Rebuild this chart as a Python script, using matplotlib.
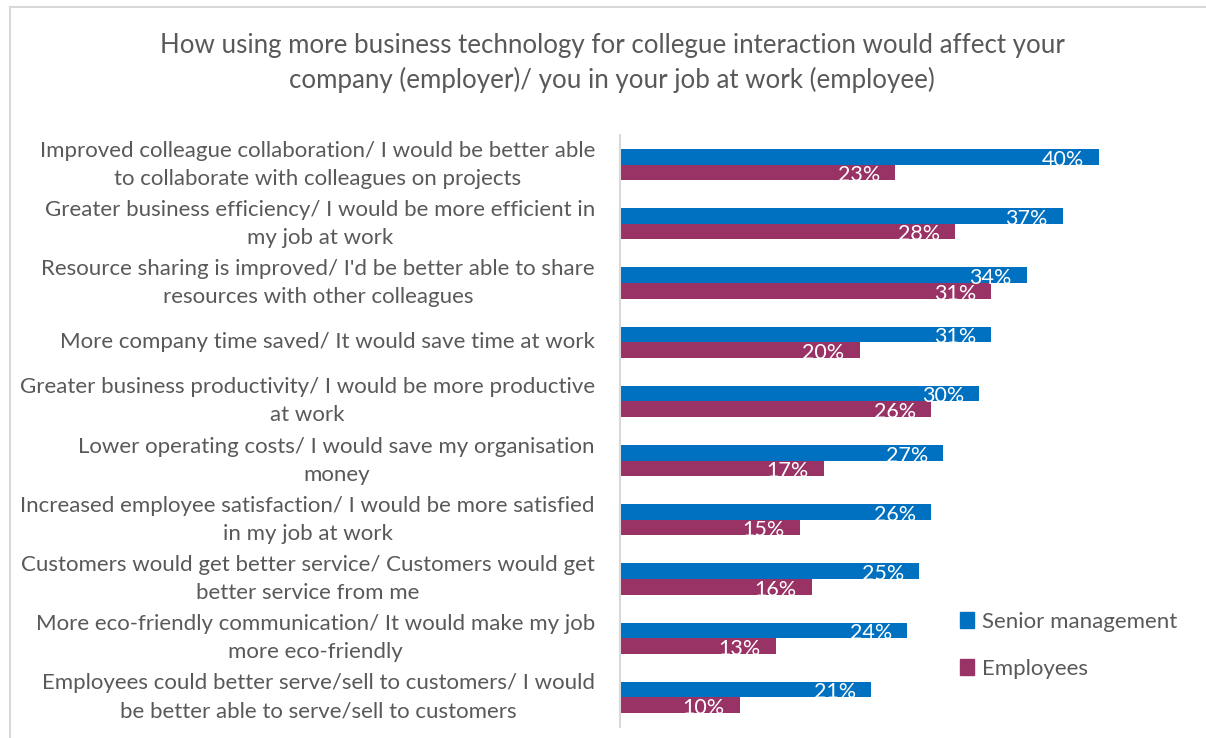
import matplotlib
matplotlib.use("Agg")
import matplotlib.pyplot as plt
from matplotlib.lines import Line2D
from matplotlib.patches import Patch

plt.rcParams['font.family'] = ['Lato', 'DejaVu Sans']

categories = [
    "Improved colleague collaboration/ I would be better able\nto collaborate with colleagues on projects",
    "Greater business efficiency/ I would be more efficient in\nmy job at work",
    "Resource sharing is improved/ I'd be better able to share\nresources with other colleagues",
    "More company time saved/ It would save time at work",
    "Greater business productivity/ I would be more productive\nat work",
    "Lower operating costs/ I would save my organisation\nmoney",
    "Increased employee satisfaction/ I would be more satisfied\nin my job at work",
    "Customers would get better service/ Customers would get\nbetter service from me",
    "More eco-friendly communication/ It would make my job\nmore eco-friendly",
    "Employees could better serve/sell to customers/ I would\nbe better able to serve/sell to customers",
]
senior = [40, 37, 34, 31, 30, 27, 26, 25, 24, 21]
employees = [23, 28, 31, 20, 26, 17, 15, 16, 13, 10]
series_names = ["Senior management", "Employees"]

blue = "#0070C0"
maroon = "#993366"
grey_text = "#595959"

W, H = 1206, 738
fig = plt.figure(figsize=(W / 100, H / 100), dpi=100)
ax = fig.add_axes([620 / W, (H - 727) / H, (1099 - 620) / W, (727 - 135) / H])

bh = 0.265
y = list(range(len(categories)))
ax.barh([i - bh / 2 for i in y], senior, height=bh, color=blue)
ax.barh([i + bh / 2 for i in y], employees, height=bh, color=maroon)

for i in y:
    ax.annotate(f"{senior[i]}%", (senior[i], i - bh / 2), xytext=(-11, -2),
                textcoords="offset points", ha="right", va="center",
                color="white", fontsize=15.5)
    ax.annotate(f"{employees[i]}%", (employees[i], i + bh / 2), xytext=(-11, -2),
                textcoords="offset points", ha="right", va="center",
                color="white", fontsize=15.5)

ax.set_xlim(0, 40)
ax.set_ylim(len(categories) - 0.5, -0.5)
ax.set_yticks(y)
ax.set_yticklabels(categories, fontsize=16, color=grey_text,
                   multialignment="center", linespacing=1.5)
for t in ax.get_yticklabels():
    t.set_verticalalignment("center")
ax.tick_params(axis="y", length=0, pad=18)
ax.set_xticks([])
for s in ["top", "right", "bottom"]:
    ax.spines[s].set_visible(False)
ax.spines["left"].set_color("#D9D9D9")
ax.spines["left"].set_linewidth(1.5)

fig.text(612 / W, 1 - 63 / H,
         "How using more business technology for collegue interaction would affect your\ncompany (employer)/ you in your job at work (employee)",
         ha="center", va="center", fontsize=18.6, color=grey_text, linespacing=1.4)

handles = [Patch(color=blue), Patch(color=maroon)]
fig.legend(handles, series_names, loc="upper left",
           bbox_to_anchor=(940 / W, 1 - 592 / H), frameon=False,
           fontsize=16, labelcolor=grey_text, handlelength=0.65,
           handleheight=0.7, handletextpad=0.35, labelspacing=1.2)

# thin frame along the top and left edges
fig.add_artist(Line2D([9.5 / W, 9.5 / W], [0, 1 - 7 / H], transform=fig.transFigure,
                      color="#D9D9D9", lw=1.5))
fig.add_artist(Line2D([9.5 / W, 1], [1 - 7 / H, 1 - 7 / H], transform=fig.transFigure,
                      color="#D9D9D9", lw=1.5))

fig.savefig("out.png", dpi=100, facecolor="white")
